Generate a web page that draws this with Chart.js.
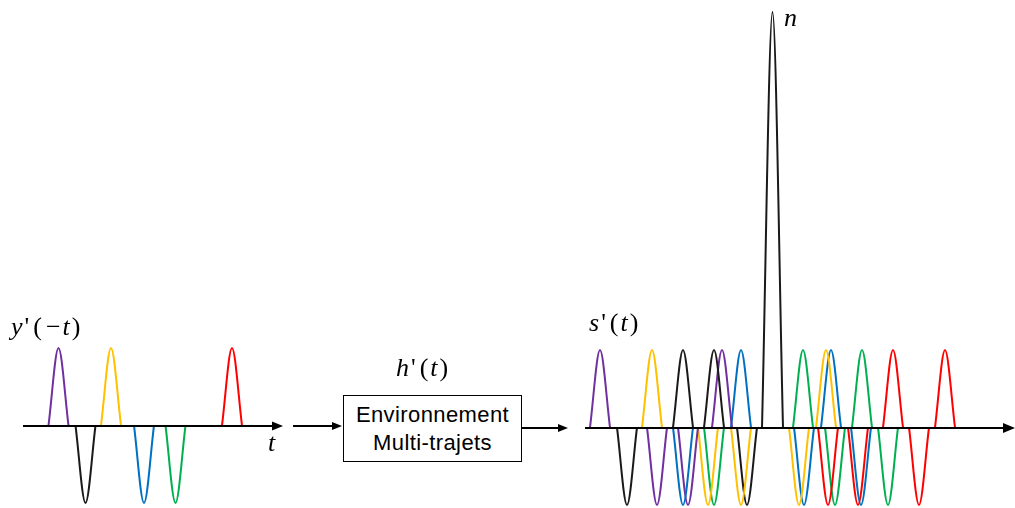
<!DOCTYPE html>
<html><head><meta charset="utf-8">
<script src="https://cdn.jsdelivr.net/npm/chart.js@4.4.0/dist/chart.umd.min.js"></script>
<style>
html,body{margin:0;padding:0;background:#fff;overflow:hidden}
#wrap{position:relative;width:1015px;height:508px}
#c{position:absolute;left:0;top:0}
.lbl{position:absolute;font-family:"Liberation Serif","Times New Roman",serif;font-size:26px;line-height:26px;white-space:nowrap;color:#000}
.lbl i{font-style:italic}
.lbl span{margin:0 2px}
#box{position:absolute;left:343px;top:395px;width:179px;height:67px;box-sizing:border-box;border:1.5px solid #000;background:#fff;
 display:flex;flex-direction:column;align-items:center;justify-content:center;font-family:"Liberation Sans",Arial,sans-serif;font-size:22px;line-height:28px;letter-spacing:0.4px;color:#000}
</style></head>
<body><div id="wrap">
<canvas id="c" width="1015" height="508"></canvas>
<div class="lbl" style="left:11px;top:314px"><i>y</i><span>'</span><span>(</span><span>−</span><i>t</i><span>)</span></div>
<div class="lbl" style="left:268px;top:430px"><i>t</i></div>
<div class="lbl" style="left:396px;top:355px"><i>h</i><span>'</span><span>(</span><i>t</i><span>)</span></div>
<div class="lbl" style="left:589px;top:310px"><i>s</i><span>'</span><span>(</span><i>t</i><span>)</span></div>
<div class="lbl" style="left:784px;top:5px"><i>n</i></div>
<div id="box"><div>Environnement</div><div>Multi-trajets</div></div>
</div>
<script>
// ---- data (time positions and amplitudes) ----
const leftTimes  = [58.5, 85.5, 111, 144, 175.5, 232];
const leftAmps   = [1, -1, 1, -1, -1, 1];
const leftColors = ['purple', 'black', 'yellow', 'blue', 'green', 'red'];

const rightTimes  = [600, 652, 683, 714, 722, 741, 803, 826, 831, 862, 893, 945,
                     627, 657, 683, 688, 708, 714, 741, 747, 799, 804, 828, 835, 858, 861, 888, 919];
const rightAmps   = [1, 1, 1, 1, 1, 1, 1, 1, 1, 1, 1, 1,
                     -1, -1, -1, -1, -1, -1, -1, -1, -1, -1, -1, -1, -1, -1, -1, -1];
const rightColors = ['purple', 'yellow', 'black', 'black', 'purple', 'blue', 'green', 'yellow', 'blue', 'green', 'red', 'red',
                     'black', 'purple', 'blue', 'purple', 'yellow', 'green', 'yellow', 'black', 'yellow', 'blue', 'red', 'green', 'red', 'blue', 'green', 'red'];

const peakTime = [772.5];
const peakAmp  = [5.36];

const pulseHalfWidth = 10;
const peakHalfWidth  = 10.5;

const palette = {purple:'#7030A0', black:'#1a1a1a', yellow:'#FFC000', blue:'#0070C0', green:'#00B050', red:'#FF0000'};

function lobe(t, a, hw) { return [{x:t-hw, y:0}, {x:t, y:a}, {x:t+hw, y:0}]; }
function ds(t, a, hw, col, axis) {
  return {data: lobe(t, a, hw), borderColor: palette[col], borderWidth: 2, pointRadius: 0,
          cubicInterpolationMode: 'monotone', fill: false, yAxisID: axis};
}
const datasets = [];
leftTimes.forEach((t,i) => datasets.push(ds(t, leftAmps[i], pulseHalfWidth, leftColors[i], 'yL')));
rightTimes.forEach((t,i) => datasets.push(ds(t, rightAmps[i], pulseHalfWidth, rightColors[i], 'y')));
peakTime.forEach((t,i) => datasets.push(ds(t, peakAmp[i], peakHalfWidth, 'black', 'y')));

// axis arrows: [start time, end time, y-axis id, head length, head half-height]
const arrows = [
  {from: 23,  to: 283,  axis: 'yL', len: 11, half: 4.5},
  {from: 293, to: 342,  axis: 'yL', len: 10, half: 4},
  {from: 522, to: 568,  axis: 'y',  len: 10, half: 4},
  {from: 585, to: 1015, axis: 'y',  len: 12, half: 5}
];

const arrowPlugin = {
  id: 'arrows',
  afterDatasetsDraw(chart) {
    const ctx = chart.ctx, xs = chart.scales.x;
    ctx.save();
    ctx.strokeStyle = '#000'; ctx.fillStyle = '#000'; ctx.lineWidth = 2;
    arrows.forEach(a => {
      const y = Math.round(chart.scales[a.axis].getPixelForValue(0));
      const x0 = xs.getPixelForValue(a.from), x1 = xs.getPixelForValue(a.to);
      ctx.beginPath(); ctx.moveTo(x0, y); ctx.lineTo(x1 - a.len + 1, y); ctx.stroke();
      ctx.beginPath(); ctx.moveTo(x1, y); ctx.lineTo(x1 - a.len, y - a.half); ctx.lineTo(x1 - a.len, y + a.half); ctx.closePath(); ctx.fill();
    });
    ctx.restore();
  }
};

new Chart(document.getElementById('c'), {
  type: 'line',
  data: {datasets},
  options: {
    responsive: false, animation: false, devicePixelRatio: 1,
    layout: {padding: 0},
    plugins: {legend: {display: false}, tooltip: {enabled: false}},
    scales: {
      x:  {type: 'linear', min: 0, max: 1015, display: false},
      y:  {min: -80.5/77.5, max: 427.5/77.5, display: false},
      yL: {min: -82.5/77.5, max: 425.5/77.5, display: false}
    }
  },
  plugins: [arrowPlugin]
});
</script>
</body></html>
